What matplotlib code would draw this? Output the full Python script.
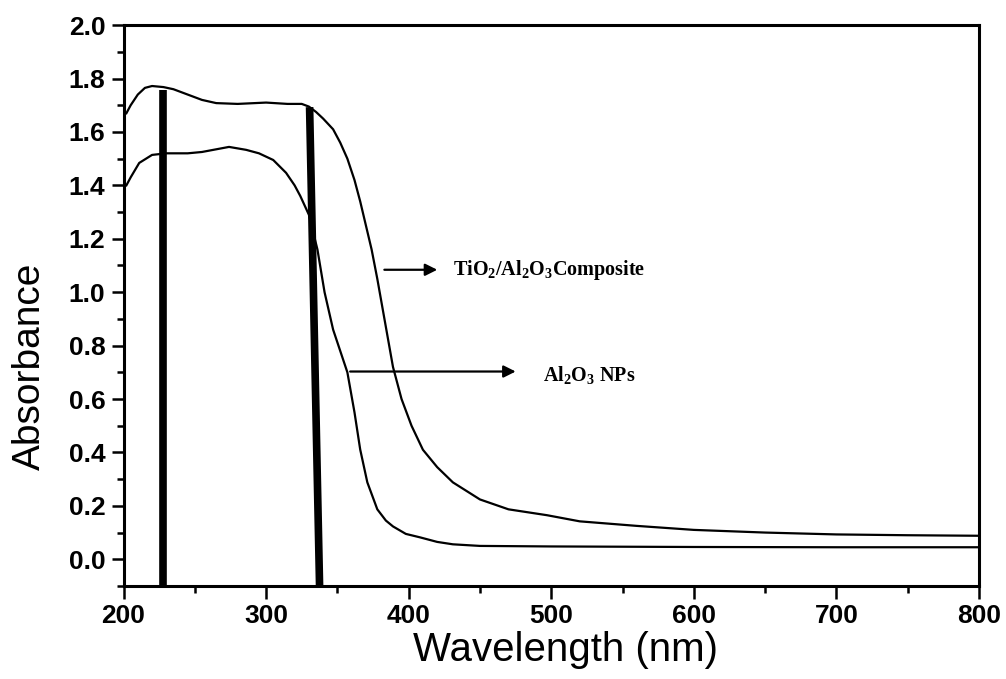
import matplotlib
matplotlib.use("Agg")
import matplotlib.pyplot as plt
from matplotlib.ticker import MultipleLocator

# ---- data ----
comp_wl = [202, 205, 210, 215, 220, 228, 235, 245, 255, 265, 280, 300, 315, 325, 330,
           335, 340, 347, 352, 357, 362, 366, 370, 374, 378, 383, 389, 395, 402, 410,
           420, 431, 450, 470, 497, 520, 560, 600, 650, 700, 750, 800]
comp_abs = [1.67, 1.70, 1.74, 1.765, 1.772, 1.768, 1.76, 1.74, 1.72, 1.708, 1.705, 1.71,
            1.705, 1.705, 1.695, 1.675, 1.65, 1.61, 1.56, 1.50, 1.42, 1.34, 1.25, 1.16,
            1.05, 0.90, 0.72, 0.60, 0.50, 0.41, 0.345, 0.288, 0.224, 0.187, 0.165, 0.142,
            0.125, 0.11, 0.10, 0.093, 0.09, 0.088]

al_wl = [202, 205, 211, 220, 230, 245, 255, 265, 274, 286, 295, 305, 314, 320, 324, 330,
         336, 341, 347, 352, 357, 362, 366, 371, 378, 384, 389, 398, 408, 420, 431, 450,
         500, 550, 600, 700, 800]
al_abs = [1.40, 1.43, 1.484, 1.514, 1.52, 1.52, 1.525, 1.535, 1.544, 1.533, 1.52, 1.495,
          1.447, 1.40, 1.36, 1.29, 1.16, 1.00, 0.86, 0.78, 0.70, 0.55, 0.411, 0.288, 0.187,
          0.145, 0.123, 0.095, 0.082, 0.065, 0.056, 0.05, 0.048, 0.047, 0.046, 0.045, 0.045]

# thick vertical marker lines: (x at top, x at bottom, top value)
bar_x_top = [227.5, 330.5]
bar_x_bottom = [227.5, 337.5]
bar_top = [1.757, 1.693]

comp_label = "TiO$_2$/Al$_2$O$_3$Composite"
al_label = "Al$_2$O$_3$ NPs"

xticks = [200, 300, 400, 500, 600, 700, 800]
yticks = [0.0, 0.2, 0.4, 0.6, 0.8, 1.0, 1.2, 1.4, 1.6, 1.8, 2.0]

plt.rcParams['mathtext.fontset'] = 'custom'
plt.rcParams['mathtext.rm'] = 'Liberation Serif:bold'
plt.rcParams['mathtext.it'] = 'Liberation Serif:bold'
plt.rcParams['mathtext.bf'] = 'Liberation Serif:bold'

fig = plt.figure(figsize=(10.06, 6.79), dpi=100)
ax = fig.add_axes([0.1228, 0.137, 0.8503, 0.826])

ax.plot(comp_wl, comp_abs, color='black', lw=1.6)
ax.plot(al_wl, al_abs, color='black', lw=1.6)

ymin = -0.1
for xt, xb, yt in zip(bar_x_top, bar_x_bottom, bar_top):
    ax.plot([xt, xb], [yt, ymin], color='black', lw=5.5, solid_capstyle='butt')

ax.set_xlim(200, 800)
ax.set_ylim(ymin, 2.0)
ax.set_xticks(xticks)
ax.set_yticks(yticks)
ax.set_yticklabels([f"{v:.1f}" for v in yticks])
ax.xaxis.set_minor_locator(MultipleLocator(50))
ax.yaxis.set_minor_locator(MultipleLocator(0.1))
ax.tick_params(which='major', direction='out', length=9, width=1.8,
               labelsize=19, top=False, right=False, pad=4)
ax.tick_params(which='minor', direction='out', length=5, width=1.8,
               top=False, right=False)
for lab in ax.get_xticklabels() + ax.get_yticklabels():
    lab.set_fontweight('bold')
    lab.set_fontfamily('Liberation Sans')
for s in ax.spines.values():
    s.set_linewidth(2.2)

ax.set_xlabel("Wavelength (nm)", fontsize=29, family='Liberation Sans')
ax.set_ylabel("Absorbance", fontsize=28, family='Liberation Sans')
ax.xaxis.set_label_coords(0.517, -0.114)
ax.yaxis.set_label_coords(-0.109, 0.392)
ax.xaxis.label.set_va('center')
ax.yaxis.label.set_va('center')

arrow = dict(arrowstyle='-|>', color='black', lw=1.6, mutation_scale=18)
ax.annotate("", xy=(422, 1.084), xytext=(381, 1.084), arrowprops=arrow)
ax.text(431, 1.084, comp_label, fontsize=14.5, family='Liberation Serif',
        fontweight='bold', va='center', ha='left')
ax.annotate("", xy=(477, 0.703), xytext=(357, 0.703), arrowprops=arrow)
ax.text(494, 0.69, al_label, fontsize=14.5, family='Liberation Serif',
        fontweight='bold', va='center', ha='left')

fig.savefig("out.png", dpi=100)
